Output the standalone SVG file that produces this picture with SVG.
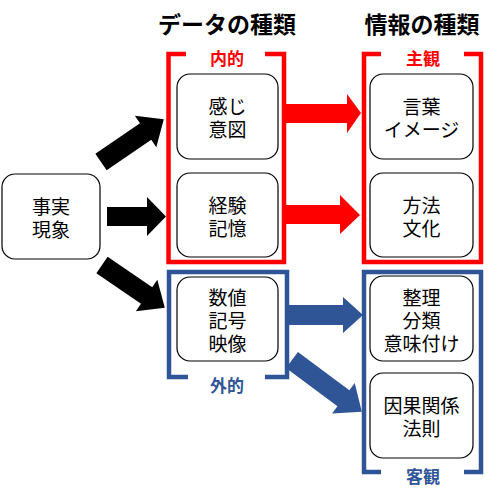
<svg xmlns="http://www.w3.org/2000/svg" width="498" height="499" viewBox="0 0 498 499">
<style>
.box{fill:#fff;stroke:#000;stroke-width:1.2}
.t{font-family:"Noto Sans CJK JP","Noto Sans",sans-serif;font-size:19px;text-anchor:middle;dominant-baseline:central;fill:#000}
.h{font-family:"Noto Sans CJK JP","Noto Sans",sans-serif;font-size:23px;font-weight:bold;text-anchor:middle;fill:#000}
.lbl{font-family:"Noto Sans CJK JP","Noto Sans",sans-serif;font-size:17px;font-weight:bold;text-anchor:middle;dominant-baseline:central}
.br{fill:none;stroke-width:4.5}
</style>
<rect width="498" height="499" fill="#fff"/>
<g id="titles">
<text class="h" x="227" y="33">データの種類</text>
<text class="h" x="422" y="33">情報の種類</text>
</g>
<g id="brackets">
<path class="br" stroke="#FF0000" d="M186,54 H168.5 V262 H284 V54 H265"/>
<path class="br" stroke="#FF0000" d="M381,54 H364 V262 H481 V54 H464"/>
<path class="br" stroke="#2F5597" d="M188,377 H169 V272 H287 V377 H265"/>
<path class="br" stroke="#2F5597" d="M381,472 H364 V272 H481 V472 H464"/>
<text class="lbl" x="227" y="57" fill="#FF0000">内的</text>
<text class="lbl" x="423" y="57" fill="#FF0000">主観</text>
<text class="lbl" x="227" y="384" fill="#2F5597">外的</text>
<text class="lbl" x="423" y="475" fill="#2F5597">客観</text>
</g>
<g id="connectors">
<polygon fill="#000" transform="translate(101,162) rotate(-34.3)" points="0,-10 54,-10 54,-19 76,0 54,19 54,10 0,10"/>
<polygon fill="#000" points="107,207 147,207 147,197 166,216.5 147,236 147,226 107,226"/>
<polygon fill="#000" transform="translate(102,265) rotate(34.3)" points="0,-10 54,-10 54,-19 76,0 54,19 54,10 0,10"/>
<polygon fill="#FF0000" points="286,104 347,104 347,94 361,113 347,133 347,123 286,123"/>
<polygon fill="#FF0000" points="286,205 340,205 340,195 360,215 340,234 340,224 286,224"/>
<polygon fill="#2F5597" points="289,305 343,305 343,297 363,315 343,333 343,325 289,325"/>
<polygon fill="#2F5597" transform="translate(292,360) rotate(36.6)" points="0,-10 64,-10 64,-19 87,0 64,19 64,10 0,10"/>
</g>
<g id="n-jijitsu">
<rect class="box" x="2" y="174" width="98" height="85" rx="13"/>
<text class="t"><tspan x="51" y="205">事実</tspan><tspan x="51" y="228">現象</tspan></text>
</g>
<g id="n-kanji">
<rect class="box" x="177" y="74" width="101" height="85" rx="13"/>
<text class="t"><tspan x="227.5" y="105">感じ</tspan><tspan x="227.5" y="128">意図</tspan></text>
</g>
<g id="n-keiken">
<rect class="box" x="177" y="173" width="101" height="84" rx="13"/>
<text class="t"><tspan x="227.5" y="203.5">経験</tspan><tspan x="227.5" y="226.5">記憶</tspan></text>
</g>
<g id="n-suuchi">
<rect class="box" x="177" y="277" width="101" height="84" rx="13"/>
<text class="t"><tspan x="227.5" y="296">数値</tspan><tspan x="227.5" y="319">記号</tspan><tspan x="227.5" y="342">映像</tspan></text>
</g>
<g id="n-kotoba">
<rect class="box" x="370" y="74" width="103" height="85" rx="13"/>
<text class="t"><tspan x="421.5" y="105">言葉</tspan><tspan x="421.5" y="128">イメージ</tspan></text>
</g>
<g id="n-houhou">
<rect class="box" x="370" y="173" width="103" height="84" rx="13"/>
<text class="t"><tspan x="421.5" y="203.5">方法</tspan><tspan x="421.5" y="226.5">文化</tspan></text>
</g>
<g id="n-seiri">
<rect class="box" x="370" y="276" width="103" height="85" rx="13"/>
<text class="t"><tspan x="421.5" y="295.5">整理</tspan><tspan x="421.5" y="318.5">分類</tspan><tspan x="421.5" y="341.5">意味付け</tspan></text>
</g>
<g id="n-inga">
<rect class="box" x="370" y="373" width="103" height="85" rx="13"/>
<text class="t"><tspan x="421.5" y="404">因果関係</tspan><tspan x="421.5" y="427">法則</tspan></text>
</g>
</svg>
